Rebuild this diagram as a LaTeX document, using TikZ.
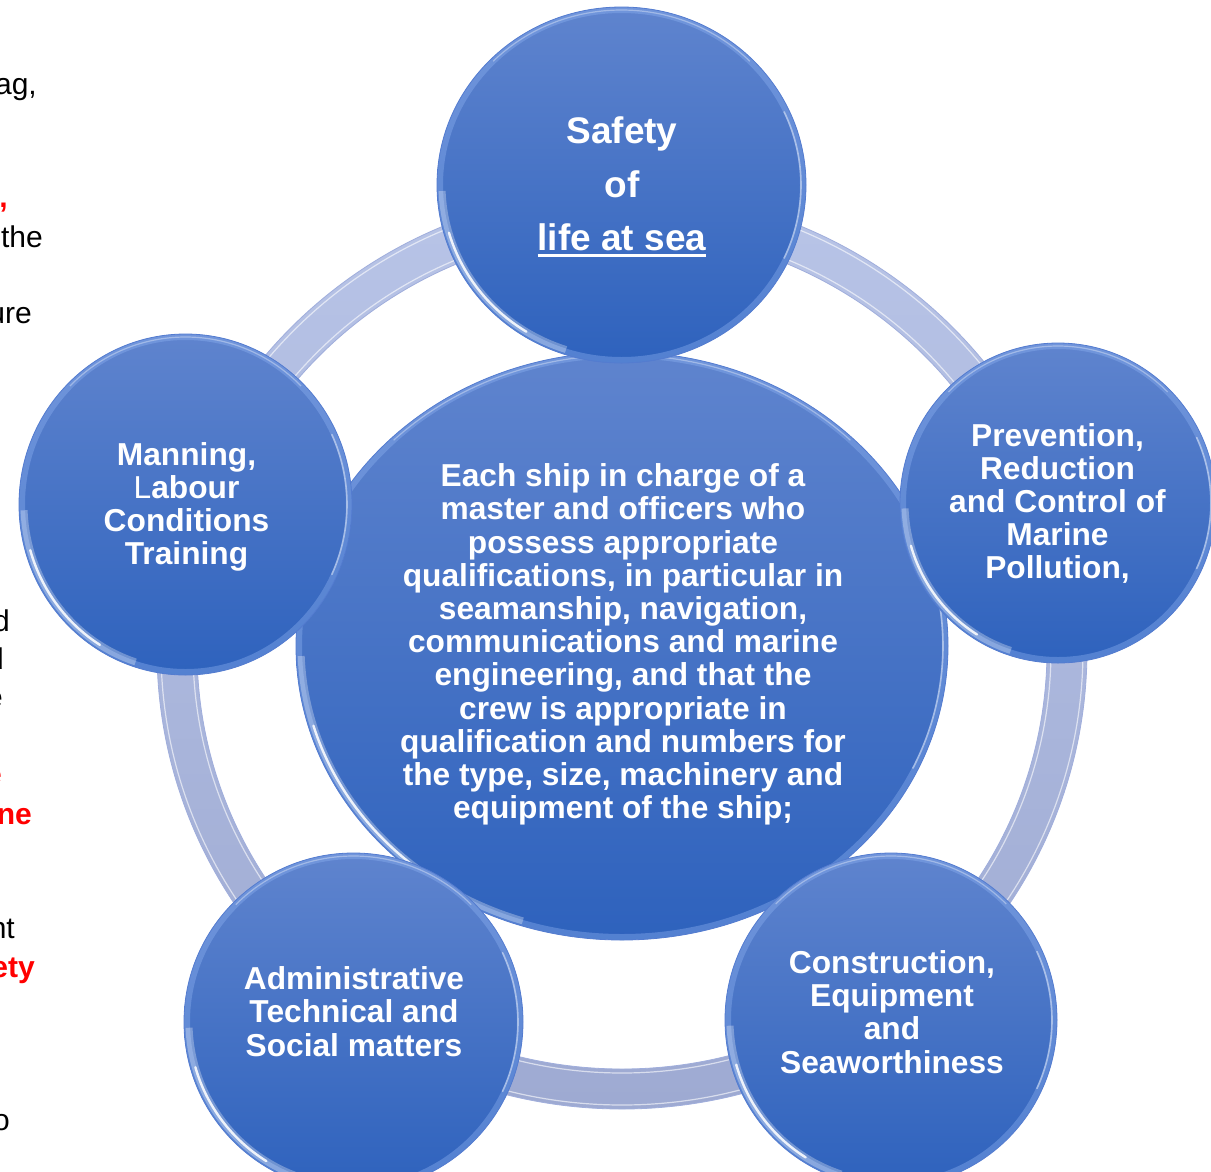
\documentclass[tikz,border=0pt]{standalone}
\usepackage{fontspec}
\setmainfont{Liberation Sans}
\usetikzlibrary{shapes.geometric}

\definecolor{discTop}{RGB}{95,132,206}
\definecolor{discBot}{RGB}{46,98,189}
\definecolor{discEdge}{RGB}{84,124,208}
\definecolor{rimLight}{RGB}{140,176,240}
\definecolor{ringTop}{RGB}{184,196,231}
\definecolor{ringBot}{RGB}{158,170,210}
\definecolor{ringEdge}{RGB}{160,174,220}
\definecolor{alertRed}{RGB}{255,0,0}

% thick underline used in the top disc
\newcommand\thickul[1]{\setbox0\hbox{#1}\rlap{\rule[-6pt]{\wd0}{2.5pt}}\box0}

\tikzset{
  % glossy blue disc; arguments: x radius, y radius (pt, no unit)
  disc/.style 2 args={
    ellipse, minimum width={2*#1 pt}, minimum height={2*#2 pt}, inner sep=0pt,
    top color=discTop, bottom color=discBot, draw=discEdge, line width=0.8pt,
    path picture={
      \pgfmathsetmacro\rxa{#1-3}\pgfmathsetmacro\rya{#2-3}
      \pgfmathsetmacro\rxb{#1-5}\pgfmathsetmacro\ryb{#2-5}
      \coordinate (pc) at (path picture bounding box.center);
      \draw[rimLight, opacity=.40, line width=6pt] (pc) ellipse [x radius=\rxa pt, y radius=\rya pt];
      \draw[white, opacity=.30, line width=7pt]
        (pc) ++(182:\rxb pt and \ryb pt) arc[start angle=182, end angle=252, x radius=\rxb pt, y radius=\ryb pt];
      \draw[white, opacity=.85, line width=2.4pt, line cap=round]
        (pc) ++(196:\rxb pt and \ryb pt) arc[start angle=196, end angle=238, x radius=\rxb pt, y radius=\ryb pt];
      \draw[white, opacity=.45, line width=1.6pt, line cap=round]
        (pc) ++(-25:\rxb pt and \ryb pt) arc[start angle=-25, end angle=25, x radius=\rxb pt, y radius=\ryb pt];
      \draw[white, opacity=.35, line width=1.2pt]
        (pc) ++(45:\rxa pt and \rya pt) arc[start angle=45, end angle=135, x radius=\rxa pt, y radius=\rya pt];
    }},
  disctext/.style={text=white, align=center, inner sep=0pt,
    font=\bfseries\fontsize{31.7}{33.2}\selectfont},
  sidetext/.style={anchor=base east, inner sep=0pt, text=black,
    font=\fontsize{30}{30}\selectfont},
  sidealert/.style={anchor=base east, inner sep=0pt, text=alertRed,
    font=\bfseries\fontsize{30}{30}\selectfont},
}

\begin{document}
\begin{tikzpicture}[x=1pt, y=-1pt]
\useasboundingbox (0,0) rectangle (1211,1171);
\fill[white] (0,0) rectangle (1211,1171);

% lines of body text running in from the left margin
\node[sidetext]  (s1)  at (37,94)   {ag,};
\node[sidealert] (s2)  at (8,207)   {,};
\node[sidetext]  (s3)  at (43,247)  {the};
\node[sidetext]  (s4)  at (32,323)  {ure};
\node[sidetext]  (s5)  at (10,631)  {d};
\node[sidetext]  (s6)  at (4,669)   {d};
\node[sidetext]  (s7)  at (3,707)   {e};
\node[sidealert] (s8)  at (2,784)   {e};
\node[sidealert] (s9)  at (32,824)  {ne};
\node[sidetext]  (s10) at (15,938)  {nt};
\node[sidealert] (s11) at (35,977)  {ety};
\node[sidetext]  (s12) at (10,1130) {o};

% connecting ring
\coordinate (hub) at (622,650);
\shade[top color=ringTop, bottom color=ringBot, even odd rule]
  (hub) ellipse [x radius=465pt, y radius=459pt]
  (hub) ellipse [x radius=425pt, y radius=419pt];
\draw[ringEdge, line width=0.8pt] (hub) ellipse [x radius=465pt, y radius=459pt];
\draw[ringEdge, line width=0.8pt] (hub) ellipse [x radius=425pt, y radius=419pt];
\draw[white, opacity=.6, line width=1.2pt] (hub) ellipse [x radius=461pt, y radius=455pt];
\draw[white, opacity=.6, line width=1.2pt] (hub) ellipse [x radius=429pt, y radius=423pt];

% central disc
\node[disc={326}{294}] (core) at (622,646) {};
\node[disctext] (coreT) at (623,644.5) {Each ship in charge of a\\
master and officers who\\
possess appropriate\\
qualifications, in particular in\\
seamanship, navigation,\\
communications and marine\\
engineering, and that the\\
crew is appropriate in\\
qualification and numbers for\\
the type, size, machinery and\\
equipment of the ship;};

% surrounding discs
\node[disc={184.5}{178}] (safety) at (621.5,185) {};
\node[disctext, font=\bfseries\fontsize{37}{53.5}\selectfont] (safetyT) at (622,187)
  {Safety\\of\\\thickul{life at sea}};

\node[disc={158}{160}] (pollution) at (1058,503) {};
\node[disctext] (pollutionT) at (1057.5,503.5)
  {Prevention,\\Reduction\\and Control of\\Marine\\Pollution,};

\node[disc={166}{167}] (construction) at (891,1020) {};
\node[disctext] (constructionT) at (892,1012)
  {Construction,\\Equipment\\and\\Seaworthiness};

\node[disc={169.5}{169}] (admin) at (353.5,1022) {};
\node[disctext] (adminT) at (354,1011.5)
  {Administrative\\Technical and\\Social matters};

\node[disc={166.5}{170.5}] (manning) at (185.5,504.5) {};
\node[disctext] (manningT) at (186.5,507)
  {Manning,\\{\mdseries L}abour\\Conditions\\Training};
\end{tikzpicture}
\end{document}
